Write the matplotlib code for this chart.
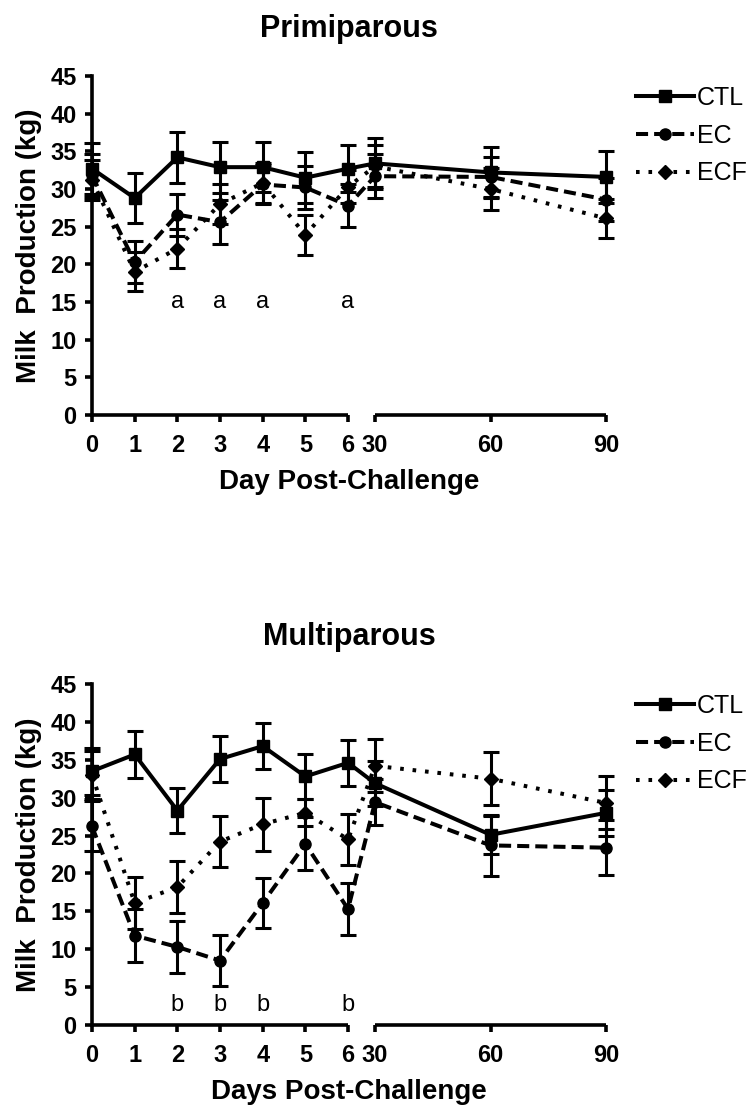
import matplotlib
matplotlib.use("Agg")
import matplotlib.pyplot as plt
import numpy as np

plt.rcParams['font.family'] = ['Liberation Sans', 'DejaVu Sans']

# Days after challenge (x values) and letters for significance
days = [0, 1, 2, 3, 4, 5, 6, 30, 60, 90]
letter_days = [2, 3, 4, 6]

# Primiparous cows, mean and SEM of milk (kg)
prim_ctl = [32.7, 28.8, 34.2, 32.9, 32.9, 31.5, 32.7, 33.4, 32.2, 31.6]
prim_ctl_se = [3.4, 3.3, 3.4, 3.4, 3.3, 3.4, 3.1, 3.4, 3.4, 3.4]
prim_ec = [31.8, 20.3, 26.6, 25.6, 30.6, 30.2, 27.8, 31.7, 31.6, 28.6]
prim_ec_se = [2.9, 2.8, 2.8, 2.9, 2.6, 2.8, 2.9, 2.9, 2.6, 2.8]
prim_ecf = [31.2, 19.0, 22.1, 28.0, 30.8, 23.9, 30.3, 33.0, 30.0, 26.1]
prim_ecf_se = [2.6, 2.6, 2.6, 2.6, 2.7, 2.6, 2.2, 2.8, 2.8, 2.6]

# Multiparous cows
mult_ctl = [33.5, 35.7, 28.3, 35.1, 36.8, 32.8, 34.6, 31.9, 25.1, 28.0]
mult_ctl_se = [3.1, 3.1, 3.0, 3.0, 3.0, 3.0, 3.0, 3.0, 2.5, 3.0]
mult_ec = [26.2, 11.8, 10.3, 8.5, 16.1, 23.9, 15.3, 29.4, 23.7, 23.4]
mult_ec_se = [3.3, 3.5, 3.4, 3.4, 3.3, 3.5, 3.4, 3.0, 4.0, 3.6]
mult_ecf = [33.0, 16.1, 18.2, 24.2, 26.5, 28.0, 24.5, 34.2, 32.5, 29.3]
mult_ecf_se = [3.2, 3.4, 3.4, 3.4, 3.5, 1.8, 3.4, 3.5, 3.5, 3.5]

# broken x axis: days 0-6 linear, then a gap, then 30-90 compressed
GAP = 0.633
K = 0.0902


def fwd(x):
    x = np.asarray(x, float)
    return np.where(x <= 6, x,
                    np.where(x <= 30, 6 + (x - 6) * GAP / 24,
                             6 + GAP + (x - 30) * K))


def inv(u):
    u = np.asarray(u, float)
    return np.where(u <= 6, u,
                    np.where(u <= 6 + GAP, 6 + (u - 6) * 24 / GAP,
                             30 + (u - 6 - GAP) / K))


styles = [('CTL', '-', 's', 8), ('EC', (0, (3.0, 1.5)), 'o', 8),
          ('ECF', (0, (0.9, 2.2)), 'D', 7.5)]


def panel(ax, title, xlabel, series, letter, letter_y, legend_y, mask):
    for (name, ls, mk, ms), (mean, se) in zip(styles, series):
        eb = ax.errorbar(days, mean, yerr=se, fmt='none', ecolor='black',
                         elinewidth=2.2, capsize=5.5, capthick=2.2, zorder=3)
        for art in list(eb.lines[1]) + list(eb.lines[2]):
            art.set_clip_on(False)
        ax.plot(days, mean, linestyle=ls, marker=mk, markersize=ms,
                color='black', lw=2.9, label=name, clip_on=False,
                dash_capstyle='butt', zorder=4)
    if mask:
        ax.axvspan(15, 22, color='white', zorder=3.5)
    for d in letter_days:
        ax.text(d, letter_y, letter, ha='center', va='center', fontsize=17)

    ax.set_xscale('function', functions=(fwd, inv))
    ax.set_xlim(0, 90)
    ax.set_ylim(0, 45)
    ax.set_xticks(days)
    ax.set_xticklabels([str(d) for d in days])
    ax.set_yticks(range(0, 50, 5))
    ax.spines['top'].set_visible(False)
    ax.spines['right'].set_visible(False)
    ax.spines['bottom'].set_visible(False)
    ax.spines['left'].set_linewidth(2.6)
    # two pieces of the x axis line
    ax.plot([0, 6], [0, 0], color='black', lw=2.6, clip_on=False,
            solid_capstyle='butt', zorder=5)
    ax.plot([30, 90], [0, 0], color='black', lw=2.6, clip_on=False,
            solid_capstyle='butt', zorder=5)
    ax.tick_params(width=2.6, length=5, labelsize=17)
    ax.tick_params(axis='x', pad=9)
    ax.tick_params(axis='y', pad=6)
    for lab in ax.get_xticklabels() + ax.get_yticklabels():
        lab.set_fontweight('bold')

    ax.set_title(title, fontsize=22, fontweight='bold', pad=28)
    ax.set_xlabel(xlabel, fontsize=20, fontweight='bold', labelpad=8)
    ax.set_ylabel('Milk  Production (kg)', fontsize=20, fontweight='bold',
                  labelpad=6)
    ax.legend(loc='upper left', bbox_to_anchor=(636 / 750, legend_y),
              bbox_transform=fig.transFigure, frameon=False, fontsize=18,
              handlelength=2.3, handletextpad=0.15, labelspacing=0.55,
              borderpad=0, borderaxespad=0)


fig = plt.figure(figsize=(7.5, 11.09), dpi=100)
ax1 = fig.add_axes([92 / 750, 1 - 415 / 1109, 514 / 750, 339 / 1109])
ax2 = fig.add_axes([92 / 750, 1 - 1025 / 1109, 514 / 750, 341 / 1109])

panel(ax1, 'Primiparous', 'Day Post-Challenge',
      [(prim_ctl, prim_ctl_se), (prim_ec, prim_ec_se),
       (prim_ecf, prim_ecf_se)], 'a', 15, 1 - 86 / 1109, False)
panel(ax2, 'Multiparous', 'Days Post-Challenge',
      [(mult_ctl, mult_ctl_se), (mult_ec, mult_ec_se),
       (mult_ecf, mult_ecf_se)], 'b', 2.6, 1 - 694 / 1109, True)

fig.savefig('out.png', dpi=100)
